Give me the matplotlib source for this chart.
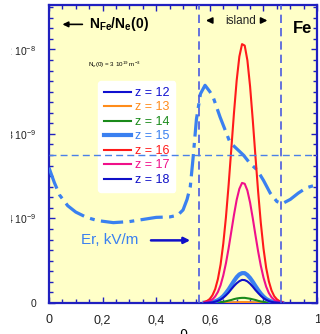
import numpy as np
import matplotlib
matplotlib.use("Agg")
import matplotlib.pyplot as plt
from matplotlib.ticker import FixedLocator, MultipleLocator
from matplotlib.patches import Rectangle

plt.rcParams['font.family'] = ['Liberation Sans', 'DejaVu Sans']
plt.rcParams['mathtext.fontset'] = 'custom'
plt.rcParams['mathtext.rm'] = 'Liberation Sans'
plt.rcParams['mathtext.it'] = 'Liberation Sans:italic'
plt.rcParams['mathtext.bf'] = 'Liberation Sans:bold'

# radial coordinate of the impurity profiles
rho = [0.58, 0.59, 0.60, 0.61, 0.62, 0.63, 0.64, 0.65, 0.66, 0.67,
       0.68, 0.69, 0.70, 0.71, 0.72, 0.73, 0.74, 0.75, 0.76, 0.77,
       0.78, 0.79, 0.80, 0.81, 0.82, 0.83, 0.84, 0.85, 0.86, 0.87]

# N_Fe/N_e(0) for each charge state, in units of 1e-9
z12 = [0, 0, 0, 0, 0, 0, 0, 0, 0, 0, 0.01, 0.01, 0.01, 0.01, 0.01,
       0.01, 0.01, 0.01, 0.01, 0.01, 0, 0, 0, 0, 0, 0, 0, 0, 0, 0]
z13 = [0, 0, 0, 0, 0, 0, 0.01, 0.01, 0.01, 0.02, 0.02, 0.03, 0.03, 0.04, 0.04,
       0.04, 0.04, 0.03, 0.03, 0.02, 0.02, 0.01, 0.01, 0.01, 0, 0, 0, 0, 0, 0]
z14 = [0, 0, 0, 0.01, 0.01, 0.02, 0.04, 0.05, 0.08, 0.11, 0.14, 0.18, 0.21, 0.23, 0.24,
       0.24, 0.22, 0.20, 0.17, 0.14, 0.10, 0.07, 0.05, 0.03, 0.02, 0.01, 0.01, 0, 0, 0]
z15 = [0.01, 0.01, 0.02, 0.04, 0.08, 0.13, 0.21, 0.32, 0.47, 0.64, 0.84, 1.04, 1.22, 1.35, 1.41,
       1.41, 1.32, 1.18, 1.00, 0.80, 0.61, 0.44, 0.30, 0.19, 0.12, 0.07, 0.04, 0.02, 0.01, 0.0]
z16 = [0.05, 0.10, 0.19, 0.37, 0.66, 1.13, 1.82, 2.80, 4.06, 5.59, 7.29, 9.00, 10.53, 11.66, 12.25,
       12.18, 11.48, 10.25, 8.66, 6.94, 5.27, 3.79, 2.58, 1.66, 1.02, 0.59, 0.32, 0.17, 0.08, 0.04]
z17 = [0.02, 0.05, 0.09, 0.17, 0.31, 0.52, 0.84, 1.30, 1.88, 2.59, 3.38, 4.17, 4.88, 5.40, 5.68,
       5.64, 5.32, 4.75, 4.01, 3.21, 2.44, 1.76, 1.20, 0.77, 0.47, 0.27, 0.15, 0.08, 0.04, 0.02]
z18 = [0.0, 0.01, 0.02, 0.03, 0.06, 0.10, 0.16, 0.25, 0.36, 0.49, 0.65, 0.80, 0.93, 1.03, 1.09,
       1.08, 1.02, 0.91, 0.77, 0.61, 0.47, 0.34, 0.23, 0.15, 0.09, 0.05, 0.03, 0.02, 0.01, 0.0]

# Er profile (arbitrary scale, drawn on same axis), units of 1e-9
er_rho = [0.0, 0.02, 0.04, 0.07, 0.10, 0.14, 0.18, 0.24, 0.30, 0.35, 0.40, 0.45, 0.48,
          0.50, 0.515, 0.527, 0.537, 0.55, 0.565, 0.582, 0.60, 0.612, 0.638, 0.675,
          0.70, 0.725, 0.75, 0.776, 0.80, 0.825, 0.85, 0.87, 0.90, 0.93, 0.96, 1.0]
er_val = [6.4, 5.7, 5.1, 4.6, 4.3, 4.05, 3.9, 3.8, 3.85, 3.95, 4.05, 4.07, 4.15,
          4.4, 4.9, 5.5, 6.8, 8.7, 9.9, 10.3, 10.0, 9.75, 8.8, 7.6,
          7.3, 7.0, 6.6, 6.3, 5.8, 5.2, 4.8, 4.7, 4.9, 5.2, 5.45, 5.6]

labels = ['z = 12', 'z = 13', 'z = 14', 'z = 15', 'z = 16', 'z = 17', 'z = 18']
colors = ['#1010d0', '#ff8c1a', '#1a8a1a', '#3a80f0', '#ff1a1a', '#f0108a', '#1010c8']
widths = [1.5, 1.5, 1.5, 3.0, 1.5, 1.5, 1.5]
series = [z12, z13, z14, z15, z16, z17, z18]

island = [0.56, 0.866]
er_ref = 7.0

yticks = [0, 4e-9, 8e-9, 1.2e-8]
ylabels = ['0', '4 10$^{-9}$', '8 10$^{-9}$', '1,2 10$^{-8}$']
xticks = [0, 0.2, 0.4, 0.6, 0.8, 1.0]
xlabels = ['0', '0,2', '0,4', '0,6', '0,8', '1']

fig = plt.figure(figsize=(3.2, 3.34), dpi=100)
ax = fig.add_axes([0.153, 0.093, 0.838, 0.892])
ax.set_facecolor('#ffffc8')

sc = 1e-9
ax.plot(er_rho, np.array(er_val) * sc, color='#3a80f0', lw=2.3,
        dashes=(7, 2, 1.5, 2), zorder=3)

handles = []
for vals, lab, c, w in zip(series, labels, colors, widths):
    h, = ax.plot(rho, np.array(vals) * sc, color=c, lw=w, label=lab, zorder=4)
    handles.append(h)

leg = ax.legend(handles=handles, loc='upper left', bbox_to_anchor=(0.16, 0.765),
                fontsize=9, frameon=True, framealpha=1, edgecolor='white',
                handlelength=2.2, handletextpad=0.3, labelspacing=0.2,
                borderpad=0.45, fancybox=True)
leg.set_zorder(2)
for t, c in zip(leg.get_texts(), colors):
    t.set_color(c)

# dashed reference lines drawn over the legend
for xv in island:
    ax.axvline(xv, color='#4a5ae0', lw=1.2, ls=(0, (5, 3)), zorder=5)
ax.axhline(er_ref * sc, color='#4a80e8', lw=1.0, ls=(0, (5, 3)), zorder=5)

ax.set_xlim(0, 1)
ax.set_ylim(0, 1.41e-8)
ax.xaxis.set_major_locator(FixedLocator(xticks))
ax.set_xticklabels(xlabels)
ax.xaxis.set_minor_locator(MultipleLocator(0.05))
ax.yaxis.set_major_locator(FixedLocator(yticks))
ax.set_yticklabels(ylabels)
ax.yaxis.set_minor_locator(MultipleLocator(5e-10))
ax.tick_params(which='both', direction='in', top=True, right=True,
               color='#2020c0', labelcolor='#222222')
ax.tick_params(which='major', length=4, width=1)
ax.tick_params(which='minor', length=3, width=1)
ax.tick_params(axis='x', labelsize=9, pad=8)
ax.tick_params(axis='y', labelsize=7.5, pad=9)
for s in ax.spines.values():
    s.set_color('#2020c0')
    s.set_linewidth(1.6)
ax.set_xlabel('ρ', fontsize=10, labelpad=0)

# annotations
ax.annotate('', xy=(0.04, 0.935), xytext=(0.135, 0.935), xycoords='axes fraction',
            arrowprops=dict(arrowstyle='-|>', color='black', lw=1.2, mutation_scale=8))
ax.text(0.148, 0.935, 'N$_{\\mathbf{Fe}}$/N$_{\\mathbf{e}}$(0)', transform=ax.transAxes,
        fontsize=10, fontweight='bold', va='center', ha='left')
ax.text(0.145, 0.8, 'N$_e$(0) = 3 10$^{19}$ m$^{-3}$', transform=ax.transAxes,
        fontsize=4.5, va='center', ha='left')
ax.text(0.715, 0.948, 'island', transform=ax.transAxes, fontsize=8.5,
        va='center', ha='center', color='#222222')
ax.annotate('', xy=(0.575, 0.948), xytext=(0.615, 0.948), xycoords='axes fraction',
            arrowprops=dict(arrowstyle='-|>', color='black', lw=1.2, mutation_scale=9))
ax.annotate('', xy=(0.825, 0.948), xytext=(0.785, 0.948), xycoords='axes fraction',
            arrowprops=dict(arrowstyle='-|>', color='black', lw=1.2, mutation_scale=9))
ax.text(0.945, 0.92, 'Fe', transform=ax.transAxes, fontsize=12, fontweight='bold',
        va='center', ha='center')
ax.text(0.12, 0.21, 'Er, kV/m', transform=ax.transAxes, fontsize=11,
        color='#3a80f0', va='center', ha='left')
ax.annotate('', xy=(0.537, 0.21), xytext=(0.37, 0.21), xycoords='axes fraction',
            arrowprops=dict(arrowstyle='-|>', color='#1010c8', lw=1.8, mutation_scale=9))

# the source image is cropped on its left edge
fig.patches.append(Rectangle((0, 0), 11 / 320, 1, transform=fig.transFigure,
                             facecolor='white', edgecolor='none', zorder=10))

fig.savefig('out.png', dpi=100)
